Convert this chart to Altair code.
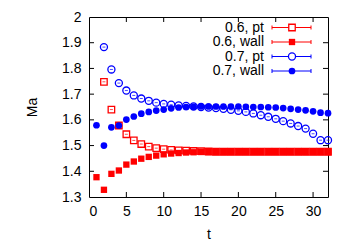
import altair as alt
import pandas as pd

# ---- data ----
t_wall = list(range(1, 33))
t_pt = list(range(2, 33))

ma06_wall = [1.377, 1.328, 1.390, 1.403, 1.426, 1.438, 1.449, 1.456, 1.461, 1.466,
             1.469, 1.471, 1.473, 1.474, 1.475, 1.475, 1.475, 1.475, 1.475, 1.475,
             1.475, 1.475, 1.475, 1.475, 1.475, 1.475, 1.475, 1.475, 1.475, 1.475,
             1.475, 1.475]
ma06_pt = [1.748, 1.640, 1.578, 1.544, 1.520, 1.506, 1.496, 1.490, 1.486, 1.483,
           1.481, 1.480, 1.479, 1.478, 1.477, 1.476, 1.476, 1.476, 1.476, 1.476,
           1.476, 1.476, 1.476, 1.476, 1.476, 1.476, 1.476, 1.476, 1.476, 1.476,
           1.476]
ma07_wall = [1.579, 1.500, 1.571, 1.578, 1.601, 1.613, 1.624, 1.631, 1.636, 1.640,
             1.645, 1.648, 1.650, 1.651, 1.652, 1.652, 1.652, 1.652, 1.652, 1.652,
             1.651, 1.650, 1.650, 1.649, 1.648, 1.646, 1.643, 1.640, 1.637, 1.633,
             1.628, 1.626]
ma07_pt = [1.883, 1.796, 1.743, 1.714, 1.695, 1.683, 1.674, 1.667, 1.662, 1.659,
           1.656, 1.654, 1.652, 1.650, 1.648, 1.646, 1.643, 1.639, 1.635, 1.631,
           1.625, 1.618, 1.612, 1.604, 1.595, 1.586, 1.576, 1.566, 1.546, 1.521,
           1.521]

legend_labels = ["0.6, pt", "0.6, wall", "0.7, pt", "0.7, wall"]
x_ticks = [5, 10, 15, 20, 25, 30]
y_ticks = [1.4, 1.5, 1.6, 1.7, 1.8, 1.9]

RED = "#ff0000"
BLUE = "#0000ff"
FONT = "Liberation Sans"
W, H = 239, 180

AXSTYLE = dict(ticks=False, domain=False, grid=False, labelFont=FONT, titleFont=FONT,
               labelFontSize=14, titleFontSize=14, labelColor="black",
               titleColor="black", titleFontWeight="normal")

XS = alt.Scale(domain=[0, 32], nice=False, zero=False)
YS = alt.Scale(domain=[1.3, 2.0], nice=False, zero=False)
XAX = alt.Axis(values=[0] + x_ticks, labelPadding=7, title="t", titlePadding=9,
               format="d", **AXSTYLE)
YAX = alt.Axis(values=[1.3] + y_ticks + [2.0], labelPadding=8, title="Ma",
               titlePadding=22,
               labelExpr="datum.value == 2 ? '2' : format(datum.value, '.1f')",
               **AXSTYLE)


def X(f):
    return alt.X(f, type="quantitative", scale=XS, axis=XAX)


def Y(f):
    return alt.Y(f, type="quantitative", scale=YS, axis=YAX)


series = [
    (t_pt, ma06_pt, "square", False, RED, 42),
    (t_wall, ma06_wall, "square", True, RED, 40),
    (t_pt, ma07_pt, "circle", False, BLUE, 50),
    (t_wall, ma07_wall, "circle", True, BLUE, 45),
]

layers = []
for ts, vs, shape, filled, col, size in series:
    df = pd.DataFrame({"t": ts, "Ma": vs})
    base = alt.Chart(df)
    if filled:
        pts = base.mark_point(shape=shape, filled=True, size=size, color=col, opacity=1)
    else:
        pts = base.mark_point(shape=shape, filled=False, size=size, color=col,
                              strokeWidth=1.3, opacity=1)
    layers.append(pts.encode(x=X("t"), y=Y("Ma")))
    if not filled:
        layers.append(base.mark_tick(orient="horizontal", size=3, thickness=1, color=col)
                      .encode(x=X("t"), y=Y("Ma")))

# inward tick marks on all four sides
ydf = pd.DataFrame({"v": y_ticks})
xdf = pd.DataFrame({"v": x_ticks})
TL = 5
layers.append(alt.Chart(ydf).mark_rule(color="black", strokeWidth=1)
              .encode(y=Y("v"), x=alt.value(0), x2=alt.value(TL)))
layers.append(alt.Chart(ydf).mark_rule(color="black", strokeWidth=1)
              .encode(y=Y("v"), x=alt.value(W - TL), x2=alt.value(W)))
layers.append(alt.Chart(xdf).mark_rule(color="black", strokeWidth=1)
              .encode(x=X("v"), y=alt.value(H), y2=alt.value(H - TL)))
layers.append(alt.Chart(xdf).mark_rule(color="black", strokeWidth=1)
              .encode(x=X("v"), y=alt.value(0), y2=alt.value(TL)))

# manual gnuplot-style legend (label left of sample)
one = pd.DataFrame({"k": [0]})
row_y = [10.5, 25, 39.5, 54]
text_x = 175
line_x0, line_x1 = 183, 222
mark_x = 203
for i, (lab, (ts, vs, shape, filled, col, size)) in enumerate(zip(legend_labels, series)):
    yy = row_y[i]
    layers.append(alt.Chart(one).mark_text(text=lab, align="right", baseline="middle",
                                           font=FONT, fontSize=14, color="black")
                  .encode(x=alt.value(text_x), y=alt.value(yy)))
    layers.append(alt.Chart(one).mark_rule(color=col, strokeWidth=1)
                  .encode(x=alt.value(line_x0), x2=alt.value(line_x1), y=alt.value(yy)))
    for cx in (line_x0, line_x1):
        layers.append(alt.Chart(one).mark_rule(color=col, strokeWidth=1)
                      .encode(x=alt.value(cx), y=alt.value(yy - 2), y2=alt.value(yy + 2)))
    if filled:
        mk = alt.Chart(one).mark_point(shape=shape, filled=True, size=size, color=col, opacity=1)
    else:
        mk = alt.Chart(one).mark_point(shape=shape, filled=False, size=size, color=col,
                                       strokeWidth=1.3, opacity=1, fill="white", fillOpacity=1)
    layers.append(mk.encode(x=alt.value(mark_x), y=alt.value(yy)))

chart = alt.layer(*layers).properties(
    width=W, height=H,
    autosize=alt.AutoSizeParams(type="none"),
    padding={"left": 81, "top": 9, "right": 10, "bottom": 48},
).configure(background="white").configure_view(stroke="black", strokeWidth=1)

chart.save("out.html", embed_options={"renderer": "svg", "actions": False})
